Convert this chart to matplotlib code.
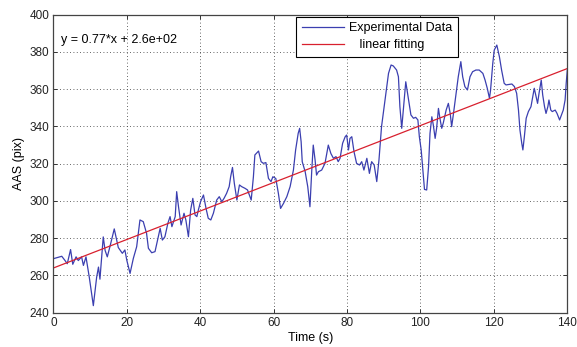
import numpy as np
import matplotlib
matplotlib.use('Agg')
import matplotlib.pyplot as plt

plt.rcParams['font.family'] = ['Liberation Sans', 'DejaVu Sans']
plt.rcParams['font.size'] = 9

# ----- data -----
time_s = [0.0, 0.9, 2.3, 3.2, 3.8, 4.7, 5.3, 6.2, 6.8, 7.7, 8.2, 8.9, 9.8, 10.9, 11.8,
          12.3, 12.7, 13.6, 14.1, 14.7, 15.4, 16.6, 17.7, 18.8, 19.5, 20.0, 20.9, 21.8,
          22.7, 23.6, 24.5, 25.4, 25.9, 26.8, 27.7, 28.4, 29.1, 29.7, 30.4, 31.2, 31.8,
          32.3, 33.2, 33.6, 34.1, 34.8, 35.6, 36.1, 36.8, 37.4, 38.0, 38.6, 39.1, 39.5,
          40.1, 40.9, 41.6, 42.2, 42.9, 43.6, 44.5, 45.2, 45.9, 46.5, 47.2, 47.9, 48.3,
          48.8, 49.3, 50.0, 50.7, 51.3, 52.2, 52.9, 53.9, 54.5, 54.9, 55.9, 56.6, 57.2,
          57.9, 58.6, 59.3, 59.8, 60.6, 61.3, 61.9, 62.7, 63.6, 64.5, 65.4, 66.0, 66.7,
          67.1, 67.5, 67.8, 68.6, 69.3, 69.9, 70.4, 70.8, 71.3, 71.7, 72.2, 73.1, 74.0,
          74.9, 75.6, 76.3, 77.0, 77.6, 78.1, 78.8, 79.5, 79.9, 80.4, 80.8, 81.3, 81.9,
          82.6, 83.4, 84.0, 84.6, 85.4, 86.1, 86.7, 87.4, 88.1, 88.7, 89.4, 90.4, 91.3,
          92.0, 92.6, 93.5, 94.0, 94.4, 94.9, 95.4, 96.0, 96.7, 97.4, 98.1, 98.7, 99.3,
          99.7, 100.2, 100.8, 101.1, 101.7, 102.2, 102.6, 103.1, 103.5, 104.0, 104.4,
          104.9, 105.3, 105.8, 106.2, 107.0, 107.6, 108.1, 108.5, 109.0, 109.7, 110.3,
          111.0, 111.5, 112.1, 112.8, 113.5, 114.2, 115.1, 116.0, 117.0, 117.6, 118.2,
          118.8, 119.1, 119.7, 120.1, 120.8, 121.5, 122.1, 122.8, 123.3, 124.2, 124.9,
          125.6, 126.2, 126.7, 127.1, 127.6, 127.9, 128.3, 128.8, 129.4, 130.1, 130.6,
          131.0, 131.4, 131.9, 132.3, 132.9, 133.3, 133.8, 134.2, 134.7, 135.0, 135.5,
          135.9, 136.7, 137.2, 137.9, 138.3, 138.9, 139.4, 139.7, 140.0]
aas_pix = [269.0, 269.5, 270.3, 268.0, 266.3, 273.9, 266.0, 270.0, 268.0, 270.0, 265.4,
           270.0, 259.0, 243.8, 259.0, 264.5, 258.0, 280.7, 273.5, 270.0, 275.3, 285.0,
           275.0, 271.9, 273.7, 268.3, 261.1, 269.2, 275.4, 289.8, 288.9, 282.6, 274.6,
           272.2, 272.8, 279.0, 285.3, 279.0, 280.8, 288.0, 291.6, 286.2, 291.6, 305.0,
           296.9, 287.1, 293.4, 289.8, 280.8, 295.1, 301.4, 292.5, 291.6, 295.1, 299.6,
           303.2, 296.0, 290.7, 289.8, 293.4, 300.5, 302.3, 299.6, 301.4, 304.1, 307.7,
           313.0, 318.0, 309.5, 300.5, 308.6, 307.7, 306.8, 305.9, 300.5, 313.0, 324.7,
           326.8, 321.1, 320.2, 320.6, 312.1, 310.4, 313.0, 312.1, 304.1, 296.0, 298.7,
           302.3, 307.7, 316.6, 327.4, 336.3, 339.0, 331.8, 321.1, 315.7, 307.7, 296.9,
           316.6, 330.0, 322.0, 313.9, 315.7, 316.6, 320.2, 330.0, 325.5, 322.9, 323.8,
           321.1, 322.9, 331.0, 334.5, 335.4, 327.4, 333.6, 334.5, 326.5, 320.2, 319.3,
           321.1, 316.6, 322.9, 314.8, 321.1, 319.3, 310.4, 322.0, 339.9, 355.1, 368.5,
           373.0, 372.5, 370.3, 366.7, 350.6, 339.0, 350.6, 364.0, 355.1, 346.2, 344.4,
           344.9, 343.5, 334.5, 327.4, 313.0, 306.2, 305.9, 318.4, 336.3, 345.2, 340.8,
           333.6, 339.0, 349.7, 344.4, 339.0, 341.7, 348.8, 352.4, 347.0, 339.9, 347.0,
           357.8, 366.7, 374.8, 366.7, 361.4, 359.6, 366.7, 369.4, 370.3, 370.3, 368.5,
           364.9, 360.5, 355.1, 359.6, 373.9, 381.0, 383.7, 377.5, 370.3, 363.2, 362.3,
           362.6, 362.8, 361.4, 357.8, 348.8, 338.1, 330.9, 327.4, 334.5, 344.4, 348.0,
           350.6, 356.0, 360.5, 356.9, 352.4, 357.8, 364.9, 356.9, 350.6, 347.0, 350.6,
           354.2, 348.8, 348.0, 348.8, 347.0, 343.5, 345.6, 348.8, 354.2, 363.2, 370.3]

fit_slope = 0.765
fit_intercept = 264.0
fit_label = 'y = 0.77*x + 2.6e+02'

# ----- figure -----
fig = plt.figure(figsize=(5.77, 3.47), dpi=100)
ax = fig.add_axes([0.0924, 0.0988, 0.8908, 0.8588])

ax.plot(time_s, aas_pix, color='#3b3fb0', linewidth=0.9, label='Experimental Data')
fx = np.array([0, 140])
ax.plot(fx, fit_slope * fx + fit_intercept, color='#d8202e', linewidth=0.9,
        label='   linear fitting')

ax.text(2, 386.5, fit_label, ha='left', va='center', fontsize=9)

ax.set_xlim(0, 140)
ax.set_ylim(240, 400)
ax.set_xticks(range(0, 141, 20))
ax.set_yticks(range(240, 401, 20))
ax.grid(True, linestyle=(0, (1, 3)), color='#333333', linewidth=0.6)
ax.tick_params(direction='in', top=True, right=True, length=3, width=0.7,
               colors='#333333', labelcolor='#222222', labelsize=8.5, pad=3)
for s in ax.spines.values():
    s.set_color('#444444')
    s.set_linewidth(0.9)

ax.set_xlabel('Time (s)', labelpad=2)
ax.set_ylabel('AAS (pix)', labelpad=3)

leg = ax.legend(loc='upper left', bbox_to_anchor=(0.472, 0.994), fancybox=False,
                edgecolor='black', framealpha=1, handlelength=3.4, borderpad=0.45,
                labelspacing=0.4, handletextpad=0.4, borderaxespad=0, fontsize=9)
leg.get_frame().set_linewidth(0.8)

fig.savefig('out.png', dpi=100)
